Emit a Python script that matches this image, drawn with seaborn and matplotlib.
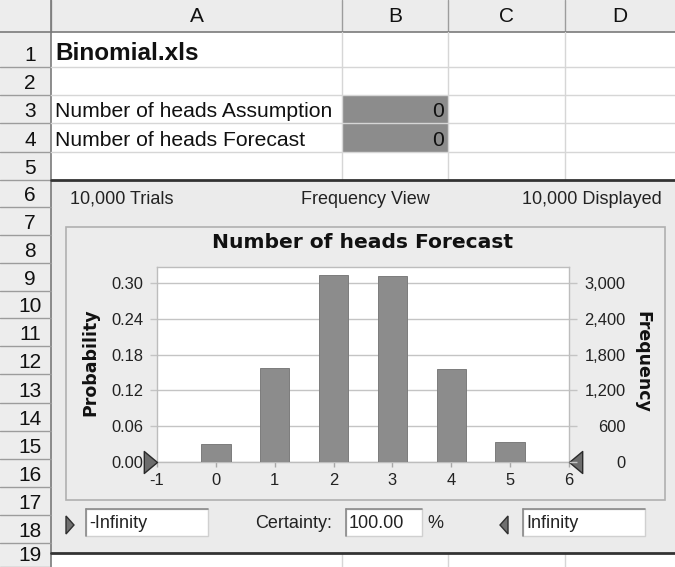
import matplotlib
matplotlib.use("Agg")
import matplotlib.pyplot as plt
from matplotlib.patches import Rectangle, Polygon
from matplotlib.path import Path
import seaborn as sns
import pandas as pd

# ---------------- data ----------------
heads = [0, 1, 2, 3, 4, 5]
probability = [0.031, 0.157, 0.313, 0.312, 0.156, 0.034]
trials = 10000
prob_ticks = [0.00, 0.06, 0.12, 0.18, 0.24, 0.30]
freq_ticks = [0, 600, 1200, 1800, 2400, 3000]
x_ticks = [-1, 0, 1, 2, 3, 4, 5, 6]
col_names = ["A", "B", "C", "D"]
row_labels = [str(i) for i in range(1, 20)]
title = "Number of heads Forecast"

sns.set_theme(style="white")
plt.rcParams["font.family"] = ["Liberation Sans", "DejaVu Sans"]

W, H = 675, 567
fig = plt.figure(figsize=(W / 100, H / 100), dpi=100)
fig.patch.set_facecolor("white")

bg = fig.add_axes([0, 0, 1, 1])
bg.set_xlim(0, W)
bg.set_ylim(H, 0)
bg.axis("off")
bg.set_zorder(0)

# layout (pixels)
col_x = [51, 342, 448, 565, 675]
row_y = [0, 32, 67, 95, 123, 152, 180, 207, 235, 263, 291, 318, 346, 374,
         403, 431, 459, 487, 515, 543, 567]
panel_top, panel_bot = 180, 553
light = "#d6d6d6"
hdr = "#9c9c9c"

# header row + row number column
bg.add_patch(Rectangle((0, 0), W, 32, facecolor="#ececec", edgecolor="none"))
bg.add_patch(Rectangle((0, 0), 51, H, facecolor="#ededed", edgecolor="none"))
for i, name in enumerate(col_names):
    bg.text((col_x[i] + col_x[i + 1]) / 2, 17, name, ha="center", va="center",
            fontsize=15, color="#111")
for x in col_x[:-1]:
    bg.plot([x, x], [0, 32], color=hdr, lw=1)
bg.plot([0, W], [32, 32], color="#7a7a7a", lw=1.2)
bg.plot([51, 51], [0, H], color="#7a7a7a", lw=1.2)
for k, lab in enumerate(row_labels):
    y0, y1 = row_y[k + 1], row_y[k + 2]
    bg.plot([0, 51], [y1, y1], color=hdr, lw=1)
    bg.text(30, y1 - 6, lab, ha="center", va="baseline", fontsize=15, color="#111")

# cell grid rows 1-5 and 19
for y in row_y[2:6]:
    bg.plot([51, W], [y, y], color=light, lw=1)
for x in col_x[1:4]:
    bg.plot([x, x], [32, panel_top], color=light, lw=1)
    bg.plot([x, x], [panel_bot, H], color=light, lw=1)

# gray cells B3:B4
bg.add_patch(Rectangle((342, 95), 106, 57, facecolor="#8c8c8c", edgecolor="none"))
bg.text(55, 60, "Binomial.xls", fontsize=17.5, fontweight="bold", va="baseline", color="#111")
bg.text(55, 117, "Number of heads Assumption", fontsize=15.2, va="baseline", color="#111")
bg.text(55, 146, "Number of heads Forecast", fontsize=15.2, va="baseline", color="#111")
bg.text(444, 117, "0", fontsize=15.2, va="baseline", ha="right", color="#111")
bg.text(444, 146, "0", fontsize=15.2, va="baseline", ha="right", color="#111")

# Crystal Ball panel
bg.add_patch(Rectangle((51, panel_top), W - 51, panel_bot - panel_top,
                       facecolor="#ebebeb", edgecolor="none"))
bg.plot([51, W], [panel_top, panel_top], color="#333", lw=2)
bg.plot([51, W], [panel_bot, panel_bot], color="#333", lw=2)
bg.text(70, 199, "10,000 Trials", fontsize=13, va="center", color="#222")
bg.text(365, 199, "Frequency View", fontsize=13, va="center", ha="center", color="#222")
bg.text(662, 199, "10,000 Displayed", fontsize=13, va="center", ha="right", color="#222")
bg.add_patch(Rectangle((66, 227), 599, 273, facecolor="#ececec",
                       edgecolor="#b0b0b0", lw=1.2))
bg.text(363, 242, title, fontsize=14.6, fontweight="bold", ha="center", va="center",
        family="DejaVu Sans", color="#111")

# bottom controls
def textbox(x0, x1, txt, tx):
    bg.add_patch(Rectangle((x0, 509), x1 - x0, 27, facecolor="white",
                           edgecolor="#d0d0d0", lw=1))
    bg.plot([x0, x1], [509, 509], color="#8a8a8a", lw=1.2)
    bg.plot([x0, x0], [509, 536], color="#8a8a8a", lw=1.2)
    bg.text(tx, 523, txt, fontsize=13, va="center", color="#222")

textbox(86, 208, "-Infinity", 89)
textbox(346, 422, "100.00", 349)
textbox(523, 645, "Infinity", 526)
bg.text(255, 523, "Certainty:", fontsize=13, va="center", color="#222")
bg.text(435, 523, "%", fontsize=13, va="center", ha="center", color="#222")
bg.add_patch(Polygon([(66, 516), (74, 525), (66, 534)], closed=True,
                     facecolor="#707070", edgecolor="#303030", lw=1))
bg.add_patch(Polygon([(508, 516), (500, 525), (508, 534)], closed=True,
                     facecolor="#707070", edgecolor="#303030", lw=1))

# ---------------- chart ----------------
def frect(x0, y0, x1, y1):
    return [x0 / W, 1 - y1 / H, (x1 - x0) / W, (y1 - y0) / H]

ax = fig.add_axes(frect(157, 267, 569, 462))
ax.set_zorder(2)
ax.set_facecolor("white")
df = pd.DataFrame({"heads": heads, "probability": probability})
sns.barplot(data=df, x="heads", y="probability", native_scale=True, width=0.5,
            color="#8c8c8c", saturation=1, edgecolor="#7c7c7c", linewidth=0.7,
            errorbar=None, ax=ax, zorder=3)
ax.set_xlim(-1, 6)
ax.set_ylim(0, 0.327)
ax.set_xticks(x_ticks)
ax.set_xticklabels([str(v) for v in x_ticks])
ax.set_yticks(prob_ticks)
ax.set_yticklabels([f"{v:.2f}" for v in prob_ticks])
ax.set_xlabel("")
ax.set_ylabel("")
ax.grid(axis="y", color="#c4c4c4", lw=1)
ax.grid(axis="x", visible=False)
ax.set_axisbelow(True)
for s in ax.spines.values():
    s.set_color("#bdbdbd")
    s.set_linewidth(1)
ax.tick_params(axis="y", left=True, length=5, width=1, color="#c4c4c4", pad=5,
               labelsize=11.9, labelcolor="#222")
ax.tick_params(axis="x", bottom=True, length=3.6, width=1, color="#a8a8a8", pad=4,
               labelsize=11.9, labelcolor="#222")

ax2 = ax.twinx()
ax2.set_ylim(0, 0.327 * trials)
ax2.set_yticks(freq_ticks)
ax2.set_yticklabels([f"{v:,}" for v in freq_ticks])
for s in ax2.spines.values():
    s.set_visible(False)
ax2.tick_params(axis="y", right=True, length=5.8, width=1, color="#c4c4c4", pad=35,
                labelsize=11.9, labelcolor="#222")
for lbl in ax2.get_yticklabels():
    lbl.set_horizontalalignment("right")
ax2.grid(False)

# certainty grabbers at the axis ends
tri_r = Path([(-1.2, -1), (0, 0), (-1.2, 1), (-1.2, -1)],
             [Path.MOVETO, Path.LINETO, Path.LINETO, Path.CLOSEPOLY])
tri_l = Path([(1.2, -1), (0, 0), (1.2, 1), (1.2, -1)],
             [Path.MOVETO, Path.LINETO, Path.LINETO, Path.CLOSEPOLY])
ax.plot([x_ticks[0]], [0], marker=tri_r, ms=19, mfc="#6c6c6c", mec="#2a2a2a",
        mew=1, clip_on=False, zorder=10, ls="none")
ax.plot([x_ticks[-1]], [0], marker=tri_l, ms=19, mfc="#6c6c6c", mec="#2a2a2a",
        mew=1, clip_on=False, zorder=10, ls="none")

fig.text(90 / W, 1 - 362 / H, "Probability", rotation=90, ha="center", va="center",
         fontsize=12.5, fontweight="bold", family="DejaVu Sans", color="#111")
fig.text(642 / W, 1 - 362 / H, "Frequency", rotation=-90, ha="center", va="center",
         fontsize=12.5, fontweight="bold", family="DejaVu Sans", color="#111")

fig.savefig("out.png", dpi=100)
